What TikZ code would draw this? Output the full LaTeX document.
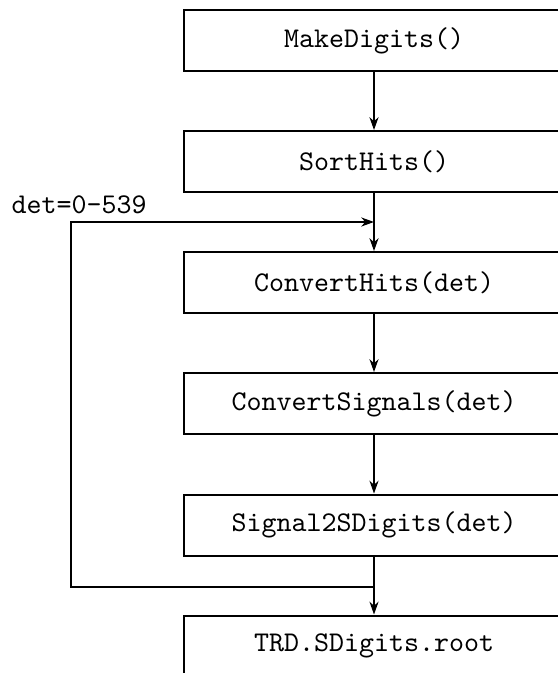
\documentclass[tikz,border=0pt]{standalone}
\usetikzlibrary{arrows.meta}
\begin{document}
\begin{tikzpicture}[x=0.35pt,y=-0.35pt,
  procbox/.style={draw,line width=0.7pt,minimum width=133pt,minimum height=21.35pt,inner sep=0pt,font=\ttfamily},
  flow/.style={line width=0.5pt,-{Stealth[length=4.5pt,width=3.2pt]}}]
\useasboundingbox (0,0) rectangle (558,673);
\clip (0,0) rectangle (558,673);
\node[procbox] (b1) at (374,40.5) {MakeDigits()};
\node[procbox] (b2) at (374,161.5) {SortHits()};
\node[procbox] (b3) at (374,282.5) {ConvertHits(det)};
\node[procbox] (b4) at (374,403.5) {ConvertSignals(det)};
\node[procbox] (b5) at (374,525) {Signal2SDigits(det)};
\node[procbox] (b6) at (374,646) {TRD.SDigits.root};
\node[anchor=base west,inner sep=0pt,font=\ttfamily] (lbl) at (11,214) {det=0-539};
\coordinate (jt) at (374,222);
\coordinate (jb) at (374,587);
\coordinate (lt) at (71,222);
\coordinate (lb) at (71,587);
\draw[flow] (b1) -- (b2);
\draw[flow] (b2) -- (b3);
\draw[flow] (b3) -- (b4);
\draw[flow] (b4) -- (b5);
\draw[flow] (b5) -- (b6);
\draw[flow] (jb) -- (lb) -- (lt) -- (jt);
\end{tikzpicture}
\end{document}
